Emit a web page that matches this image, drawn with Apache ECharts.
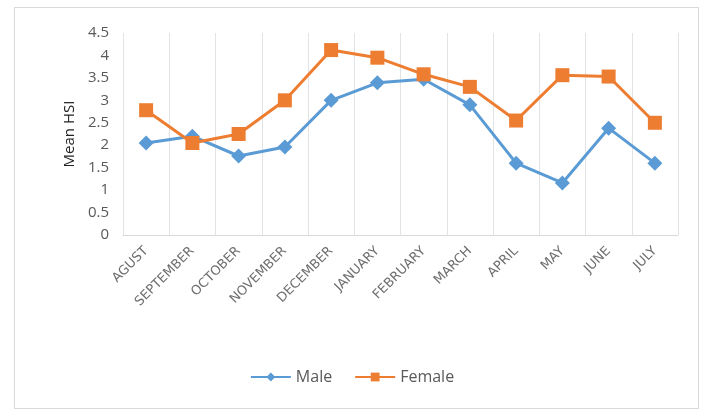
<!DOCTYPE html>
<html>
<head>
  <meta http-equiv="Content-Type" content="text/html; charset=utf-8"/>
  <title>Mean HSI</title>
  <script src="https://cdn.jsdelivr.net/npm/echarts@6/dist/echarts.min.js"></script>
</head>
<body style="margin:0;background:#fff">
<div id="frame" style="position:absolute;left:14px;top:7px;width:683px;height:400px;border:1px solid #d9d9d9;"></div>
<div id="chart" style="position:absolute;left:0;top:0;width:704px;height:410px;"></div>
<script type="text/javascript">
var months = ['AGUST','SEPTEMBER','OCTOBER','NOVEMBER','DECEMBER','JANUARY','FEBRUARY','MARCH','APRIL','MAY','JUNE','JULY'];
var male = [2.05, 2.2, 1.76, 1.96, 3.0, 3.39, 3.47, 2.9, 1.6, 1.16, 2.38, 1.6];
var female = [2.78, 2.05, 2.25, 3.0, 4.12, 3.95, 3.58, 3.3, 2.55, 3.56, 3.53, 2.5];

var chart = echarts.init(document.getElementById('chart'));
var txt = '#595959';
chart.setOption({
  animation: false,
  grid: {left: 123, right: 26, top: 33, bottom: 175},
  legend: {
    bottom: 20,
    left: 'center',
    itemWidth: 40,
    itemHeight: 11,
    itemGap: 22,
    textStyle: {color: txt, fontSize: 16, fontFamily: 'Open Sans'},
    data: ['Male', 'Female']
  },
  xAxis: {
    type: 'category',
    data: months,
    axisTick: {show: false},
    axisLine: {lineStyle: {color: '#d9d9d9'}},
    splitLine: {show: true, interval: 0, lineStyle: {color: '#e3e3e3'}},
    axisLabel: {interval: 0, rotate: 45, color: '#6e6e6e', fontSize: 13, fontFamily: 'DejaVu Sans', margin: 14}
  },
  yAxis: {
    type: 'value',
    min: 0,
    max: 4.5,
    interval: 0.5,
    name: 'Mean HSI',
    nameLocation: 'middle',
    nameGap: 44,
    nameTextStyle: {color: '#222', fontSize: 15, fontFamily: 'Open Sans'},
    axisLine: {show: false},
    axisTick: {show: false},
    splitLine: {show: false},
    axisLabel: {color: txt, fontSize: 15, fontFamily: 'Open Sans', margin: 14}
  },
  series: [
    {
      name: 'Male',
      type: 'line',
      data: male,
      symbol: 'diamond',
      symbolSize: 15,
      color: '#5B9BD5',
      lineStyle: {width: 3}
    },
    {
      name: 'Female',
      type: 'line',
      data: female,
      symbol: 'rect',
      symbolSize: 14,
      color: '#ED7D31',
      lineStyle: {width: 3}
    }
  ]
});
</script>
</body>
</html>
